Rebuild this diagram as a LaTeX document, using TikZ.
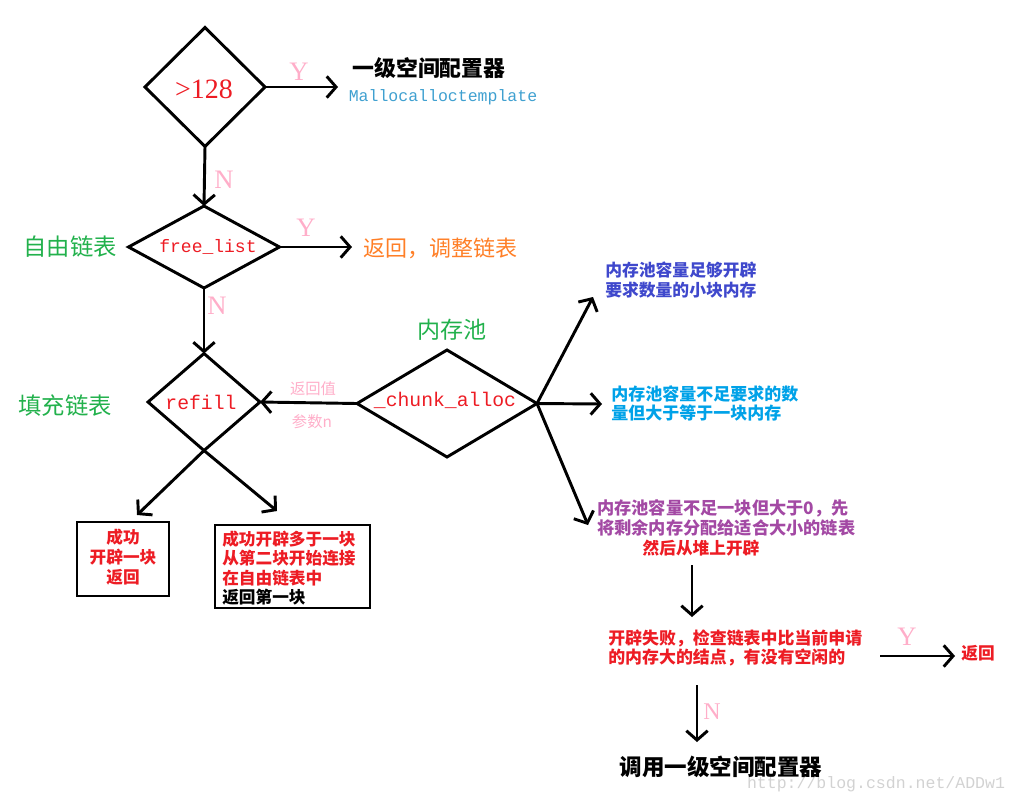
\documentclass[tikz,border=0pt]{standalone}
\usepackage{fontspec}
\setmainfont{Liberation Serif}
\newfontfamily\cjk{Noto Sans CJK SC}
\newfontfamily\mono{Liberation Mono}
\usetikzlibrary{shapes.geometric,arrows.meta}
\definecolor{pred}{HTML}{ED1C24}
\definecolor{ppink}{HTML}{FFAEC9}
\definecolor{pgreen}{HTML}{22B14C}
\definecolor{porange}{HTML}{FF7F27}
\definecolor{pindigo}{HTML}{3F48CC}
\definecolor{pcyan}{HTML}{00A2E8}
\definecolor{ppurple}{HTML}{A349A4}
\definecolor{pteal}{HTML}{3FA0D0}
\definecolor{pgray}{HTML}{D2D2D2}
\begin{document}
\begin{tikzpicture}[x=0.75pt,y=-0.75pt,
  dia/.style={draw, diamond, line width=2.2pt, inner sep=0pt, outer sep=0pt},
  boxnode/.style={draw, rectangle, line width=2.2pt, inner sep=0pt, outer sep=0pt},
  arr/.style={line width=2.2pt, -{Straight Barb[length=7pt,width=16pt]}},
  yn/.style={text=ppink, inner sep=0pt, font=\fontsize{20}{20}\selectfont},
  cjkb/.style={inner sep=0pt, font=\cjk\bfseries\fontsize{12.7}{15}\selectfont},
  cjkr/.style={inner sep=0pt, font=\cjk\fontsize{17.5}{20}\selectfont},
  code/.style={inner sep=0pt, text=pred, font=\mono\fontsize{14.8}{16}\selectfont}
]
\useasboundingbox (0,0) rectangle (1016,800);

% diamonds
\node[dia, minimum width=90pt, minimum height=89.25pt] (d1) at (205,87) {};
\node[dia, minimum width=113.25pt, minimum height=61.5pt] (d2) at (204,247) {};
\node[dia, minimum width=84pt, minimum height=72.75pt] (d3) at (204,402) {};
\node[dia, minimum width=135pt, minimum height=80.25pt] (d4) at (447,403.5) {};

\node[inner sep=0pt, text=pred, font=\fontsize{21}{21}\selectfont] (d1t) at (204,89) {>128};
\node[code, font=\mono\fontsize{13.5}{15}\selectfont] (d2t) at (208,247) {free\_list};
\node[code] (d3t) at (201,402) {refill};
\node[code] (d4t) at (445,400) {\_chunk\_alloc};

% boxes
\node[boxnode, minimum width=69pt, minimum height=55.5pt] (b1) at (123,559) {};
\node[boxnode, minimum width=116.25pt, minimum height=62.25pt] (b2) at (292.5,566.5) {};
\node[cjkb, text=pred, align=center, font=\cjk\bfseries\fontsize{12.5}{15}\selectfont] (b1t) at (123,557) {成功\\开辟一块\\返回};
\node[cjkb, anchor=west, align=left, font=\cjk\bfseries\fontsize{12.5}{14.6}\selectfont] (b2t) at (222,568) {\textcolor{pred}{成功开辟多于一块}\\\textcolor{pred}{从第二块开始连接}\\\textcolor{pred}{在自由链表中}\\返回第一块};

% top section
\coordinate (y1) at (338,87);
\draw[arr] (d1.east) -- (y1);
\node[yn] (y1l) at (299,72) {Y};
\node[inner sep=0pt, font=\cjk\bfseries\fontsize{16.4}{18}\selectfont] (t1) at (429,68) {一级空间配置器};
\node[inner sep=0pt, text=pteal, font=\mono\fontsize{12.4}{14}\selectfont] (t1b) at (443,97) {Mallocalloctemplate};

\draw[arr] (d1.south) -- (d2.north);
\node[yn] (n1) at (224,180) {N};

\coordinate (y2) at (352,247);
\draw[arr] (d2.east) -- (y2);
\node[yn] (y2l) at (306,228) {Y};
\node[cjkr, text=porange, font=\cjk\fontsize{16.5}{18}\selectfont] (t2) at (440,248) {返回，调整链表};
\node[cjkr, text=pgreen] (l2) at (70,247) {自由链表};

\draw[arr] (d2.south) -- (d3.north);
\node[yn] (n2) at (217,306) {N};
\node[cjkr, text=pgreen] (l3) at (65,406) {填充链表};

\draw[arr] (d4.west) -- (d3.east);
\node[inner sep=0pt, text=ppink, font=\cjk\fontsize{11.5}{13}\selectfont] (rv) at (313,389) {返回值};
\node[inner sep=0pt, text=ppink, font=\cjk\fontsize{11.5}{13}\selectfont] (pn) at (312,422) {参数n};
\node[cjkr, text=pgreen, font=\cjk\fontsize{17.3}{19}\selectfont] (l4) at (452,330) {内存池};

% refill outputs
\coordinate (r1) at (137,515);
\coordinate (r2) at (277,511);
\draw[arr] (d3.south) -- (r1);
\draw[arr] (d3.south) -- (r2);

% chunk_alloc outputs
\coordinate (a1) at (593,297);
\coordinate (a2) at (602,404);
\coordinate (a3) at (588,525);
\draw[arr] (d4.east) -- (a1);
\draw[arr] (d4.east) -- (a2);
\draw[arr] (d4.east) -- (a3);

\node[cjkb, text=pindigo, anchor=west, align=left, font=\cjk\bfseries\fontsize{12.6}{15}\selectfont] (c1) at (605,280) {内存池容量足够开辟\\要求数量的小块内存};
\node[cjkb, text=pcyan, anchor=west, align=left, font=\cjk\bfseries\fontsize{12.75}{14.5}\selectfont] (c2) at (611,403.5) {内存池容量不足要求的数\\量但大于等于一块内存};
\node[cjkb, text=ppurple, anchor=west, align=left, font=\cjk\bfseries\fontsize{12.9}{15}\selectfont] (c3) at (597,518) {内存池容量不足一块但大于0，先\\将剩余内存分配给适合大小的链表};
\node[cjkb, text=pred, font=\cjk\bfseries\fontsize{12.5}{15}\selectfont] (c4) at (701,548) {然后从堆上开辟};

\coordinate (f0) at (692,565);
\coordinate (f1) at (692,617);
\draw[arr] (f0) -- (f1);
\node[cjkb, text=pred, anchor=west, align=left, font=\cjk\bfseries\fontsize{12.7}{14.5}\selectfont] (fail) at (608,648) {开辟失败，检查链表中比当前申请\\的内存大的结点，有没有空闲的};

\coordinate (g0) at (880,656);
\coordinate (g1) at (955,656);
\draw[arr] (g0) -- (g1);
\node[yn] (y3) at (907,637) {Y};
\node[cjkb, text=pred, font=\cjk\bfseries\fontsize{12.5}{15}\selectfont] (ret) at (978,653) {返回};

\coordinate (h0) at (697,685);
\coordinate (h1) at (697,742);
\draw[arr] (h0) -- (h1);
\node[yn, font=\fontsize{18}{18}\selectfont] (n3) at (712,712) {N};
\node[inner sep=0pt, text=pgray, font=\mono\fontsize{12.4}{14}\selectfont] (wm) at (876,784) {http://blog.csdn.net/ADDw1};
\node[inner sep=0pt, font=\cjk\bfseries\fontsize{16.9}{18}\selectfont] (last) at (721,767) {调用一级空间配置器};
\end{tikzpicture}
\end{document}
